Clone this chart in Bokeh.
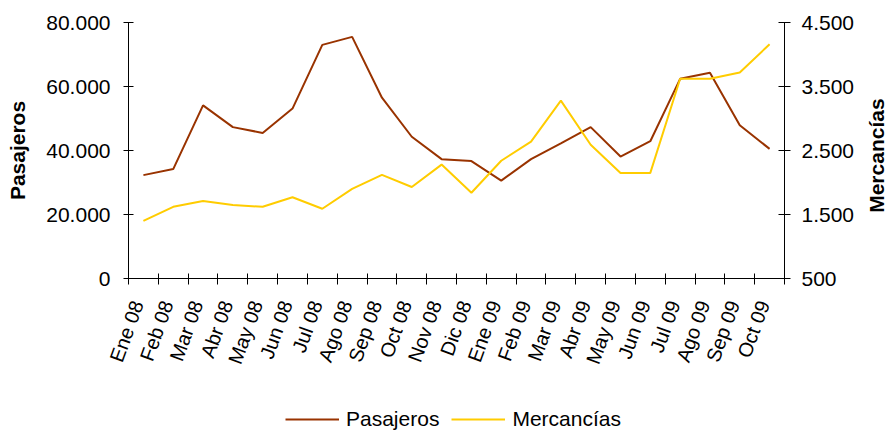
import math
from bokeh.plotting import figure
from bokeh.layouts import column, row
from bokeh.models import Range1d, LinearAxis, FixedTicker, Legend, LegendItem
from bokeh.core.properties import value
from bokeh.embed import file_html
from bokeh.resources import INLINE

months = ["Ene 08", "Feb 08", "Mar 08", "Abr 08", "May 08", "Jun 08", "Jul 08",
          "Ago 08", "Sep 08", "Oct 08", "Nov 08", "Dic 08", "Ene 09", "Feb 09",
          "Mar 09", "Abr 09", "May 09", "Jun 09", "Jul 09", "Ago 09", "Sep 09", "Oct 09"]
pasajeros = [32300, 34200, 54100, 47300, 45500, 53100, 73000, 75500, 56500, 44300, 37300,
             36700, 30600, 37300, 42200, 47300, 38100, 42900, 62400, 64300, 47900, 40500]
mercancias = [1400, 1620, 1710, 1650, 1620, 1770, 1590, 1900, 2120, 1930, 2280,
              1840, 2340, 2640, 3280, 2590, 2150, 2150, 3620, 3620, 3720, 4160]
left_ticks = [0, 20000, 40000, 60000, 80000]
left_labels = ["0", "20.000", "40.000", "60.000", "80.000"]
right_ticks = [500, 1500, 2500, 3500, 4500]
right_labels = ["500", "1.500", "2.500", "3.500", "4.500"]
series_names = ["Pasajeros", "Mercancías"]

FONT = "Liberation Sans"
BROWN = "#993300"
YELLOW = "#FFCC00"
n = len(months)
xs = [i + 0.5 for i in range(n)]
label_pos = [i + 0.3 for i in range(n)]

p = figure(width=860, height=400, output_backend="svg", toolbar_location=None,
           x_range=Range1d(0, n), y_range=Range1d(0, 80000),
           min_border_left=128, min_border_right=76, min_border_top=22, min_border_bottom=122)
p.outline_line_color = None
p.xgrid.visible = False
p.ygrid.visible = False
p.extra_y_ranges = {"merc": Range1d(500, 4500)}

p.line(xs, pasajeros, line_color=BROWN, line_width=2)
p.line(xs, mercancias, line_color=YELLOW, line_width=2, y_range_name="merc")

# x axis
xa = p.xaxis[0]
xa.ticker = FixedTicker(ticks=label_pos, minor_ticks=list(range(n + 1)))
xa.major_label_overrides = {x: m for x, m in zip(label_pos, months)}
xa.major_tick_out = 0
xa.major_tick_in = 0
xa.minor_tick_out = 6
xa.minor_tick_in = 5
xa.minor_tick_line_color = "black"
xa.major_label_orientation = math.radians(70)
xa.major_label_standoff = 17
xa.major_label_text_font = FONT
xa.major_label_text_font_size = "20px"
xa.major_label_text_color = "black"
xa.axis_line_color = "black"

# left axis
ya = p.yaxis[0]
ya.ticker = FixedTicker(ticks=left_ticks, minor_ticks=[])
ya.major_label_overrides = {t: l for t, l in zip(left_ticks, left_labels)}
ya.major_tick_out = 5
ya.major_tick_in = 5
ya.major_label_standoff = 13
ya.major_label_text_font = FONT
ya.major_label_text_font_size = "21px"
ya.major_label_text_color = "black"
ya.axis_label = series_names[0]
ya.axis_label_text_font = FONT
ya.axis_label_text_font_size = "21px"
ya.axis_label_text_font_style = "bold"
ya.axis_label_text_color = "black"
ya.axis_label_standoff = 14
ya.axis_line_color = "black"
ya.major_tick_line_color = "black"

# right axis
ra = LinearAxis(y_range_name="merc")
ra.ticker = FixedTicker(ticks=right_ticks, minor_ticks=[])
ra.major_label_overrides = {t: l for t, l in zip(right_ticks, right_labels)}
ra.major_tick_out = 6
ra.major_tick_in = 6
ra.major_label_standoff = 11
ra.major_label_text_font = FONT
ra.major_label_text_font_size = "21px"
ra.major_label_text_color = "black"
ra.axis_line_color = "black"
ra.major_tick_line_color = "black"
p.add_layout(ra, "right")

# right axis title strip
pr = figure(width=28, height=400, output_backend="svg", toolbar_location=None,
            x_range=Range1d(0, 1), y_range=Range1d(0, 1),
            x_axis_type=None, y_axis_type=None,
            min_border_left=0, min_border_right=0, min_border_top=22, min_border_bottom=122)
pr.outline_line_color = None
pr.xgrid.visible = False
pr.ygrid.visible = False
pr.text(x=[0.57], y=[0.48], text=[series_names[1]], angle=math.pi / 2,
        text_align="center", text_baseline="middle", text_font=value(FONT),
        text_font_size="21px", text_font_style="bold", text_color="black")

# legend strip below the chart
pl = figure(width=888, height=32, output_backend="svg", toolbar_location=None,
            x_range=Range1d(0, 1), y_range=Range1d(0, 1),
            x_axis_type=None, y_axis_type=None,
            min_border_left=128, min_border_right=0, min_border_top=0, min_border_bottom=0)
pl.outline_line_color = None
pl.xgrid.visible = False
pl.ygrid.visible = False
l1 = pl.line([5, 6], [5, 6], line_color=BROWN, line_width=2)
l2 = pl.line([5, 6], [5, 6], line_color=YELLOW, line_width=2)
legend = Legend(items=[LegendItem(label=series_names[0], renderers=[l1]),
                       LegendItem(label=series_names[1], renderers=[l2])],
                orientation="horizontal", location=(157, 1), padding=0, margin=0,
                border_line_alpha=0, background_fill_alpha=0, glyph_width=54,
                label_standoff=7, spacing=12, label_text_font=FONT,
                label_text_font_size="21px", label_text_color="black")
pl.add_layout(legend)

layout = column(row(p, pr, spacing=0), pl, spacing=0)
open("out.html", "w").write(file_html(layout, INLINE))
